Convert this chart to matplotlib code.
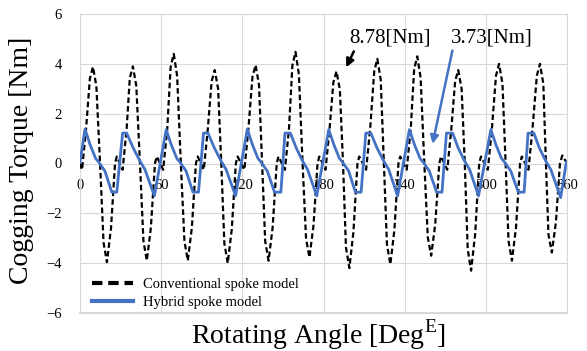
import matplotlib.pyplot as plt
from matplotlib.lines import Line2D

plt.rcParams['font.family'] = ['Liberation Serif', 'DejaVu Serif']
plt.rcParams['mathtext.fontset'] = 'custom'
plt.rcParams['mathtext.rm'] = 'Liberation Serif'

# Conventional spoke model
conv_angle = [0.0,
              1.5, 4.5, 7.3, 9.6, 12.1, 14.8, 17.4, 19.9, 22.9, 25.9, 27.2,
              31.5, 34.5, 36.8, 39.1, 41.6, 44.3, 46.9, 49.4, 52.4, 55.4, 56.7,
              61.5, 64.5, 67.0, 69.3, 71.8, 74.5, 77.2, 79.7, 82.7, 85.7, 87.0,
              91.5, 94.5, 97.3, 99.6, 102.1, 104.4, 106.7, 109.2, 112.2, 115.2, 116.5,
              121.5, 124.5, 127.5, 129.8, 132.3, 134.6, 136.9, 139.4, 142.4, 145.4, 146.7,
              151.5, 154.5, 157.0, 159.3, 161.8, 164.5, 167.1, 169.6, 172.6, 175.6, 176.9,
              181.5, 184.5, 187.3, 189.6, 192.1, 194.4, 196.6, 199.1, 202.1, 205.1, 206.4,
              211.5, 214.5, 217.5, 219.8, 222.3, 224.6, 226.9, 229.4, 232.4, 235.4, 236.7,
              241.5, 244.5, 247.0, 249.3, 251.8, 254.5, 257.1, 259.6, 262.6, 265.6, 266.9,
              271.5, 274.5, 277.3, 279.6, 282.1, 284.4, 286.6, 289.1, 292.1, 295.1, 296.4,
              301.5, 304.5, 307.5, 309.8, 312.3, 314.6, 316.8, 319.3, 322.3, 325.3, 326.6,
              331.5, 334.5, 337.7, 340.0, 342.5, 344.4, 346.3, 348.8, 351.8, 354.8, 356.5,
              359.5]
conv_torque = [0.0,
               -0.25, 1.4, 3.41, 3.88, 3.10, 0.05, -3.17, -3.96, -2.61, 0.0, 0.28,
               -0.25, 1.4, 3.43, 3.9, 3.12, 0.05, -3.12, -3.9, -2.57, 0.0, 0.28,
               -0.25, 1.4, 3.87, 4.4, 3.52, 0.05, -3.12, -3.9, -2.57, 0.0, 0.28,
               -0.25, 1.4, 3.3, 3.75, 3.0, 0.05, -3.2, -4.0, -2.64, 0.0, 0.28,
               -0.25, 1.4, 3.48, 3.95, 3.16, 0.05, -3.12, -3.9, -2.57, 0.0, 0.28,
               -0.25, 1.4, 3.94, 4.48, 3.58, 0.05, -3.02, -3.77, -2.49, 0.0, 0.28,
               -0.25, 1.4, 3.26, 3.7, 2.96, 0.05, -3.36, -4.2, -2.77, 0.0, 0.28,
               -0.25, 1.4, 3.7, 4.2, 3.36, 0.05, -3.24, -4.05, -2.67, 0.0, 0.28,
               -0.25, 1.4, 3.78, 4.3, 3.44, 0.05, -2.96, -3.7, -2.44, 0.0, 0.28,
               -0.25, 1.4, 3.3, 3.75, 3.0, 0.05, -3.44, -4.3, -2.84, 0.0, 0.28,
               -0.25, 1.4, 3.52, 4.0, 3.2, 0.05, -3.12, -3.9, -2.57, 0.0, 0.28,
               -0.25, 1.4, 3.52, 4.0, 3.2, 0.05, -2.86, -3.57, -2.36, 0.0, 0.32,
               0.05]

# Hybrid spoke model
hyb_angle = [0.0, 3.7, 7.5, 11.6, 13.5, 18.4, 23.5, 27.2, 31.5, 34.5, 39.3, 44.3, 48.0, 55.0,
             63.7, 67.5, 71.6, 73.5, 78.4, 83.5, 87.6, 91.3, 94.6, 99.3, 104.3, 108.0, 115.0,
             123.7, 127.5, 131.6, 133.5, 138.4, 143.8, 148.5, 151.5, 155.5, 159.8, 164.5, 168.2, 175.0,
             183.9, 187.7, 191.8, 193.7, 198.6, 203.6, 207.8, 211.3, 215.0, 219.5, 224.5, 228.2, 234.8,
             243.5, 247.3, 251.4, 253.3, 258.2, 263.6, 267.6, 270.9, 275.5, 279.5, 284.3, 288.0, 294.6,
             303.7, 307.5, 311.6, 313.5, 318.4, 324.0, 328.3, 331.2, 335.5, 339.5, 344.3, 348.0, 355.3,
             359.5]
hyb_torque = [0.05, 1.38, 0.75, 0.2, 0.08, -0.3, -1.15, -1.15, 1.22, 1.22, 0.63, 0.1, -0.24, -1.3,
              1.36, 0.75, 0.2, 0.08, -0.3, -1.15, -1.15, 1.22, 1.22, 0.63, 0.1, -0.24, -1.3,
              1.38, 0.75, 0.2, 0.08, -0.3, -1.15, -1.15, 1.22, 1.22, 0.63, 0.1, -0.24, -1.3,
              1.36, 0.75, 0.2, 0.08, -0.3, -1.15, -1.15, 1.22, 1.22, 0.63, 0.1, -0.24, -1.3,
              1.36, 0.75, 0.2, 0.08, -0.3, -1.15, -1.15, 1.22, 1.22, 0.63, 0.1, -0.24, -1.3,
              1.36, 0.75, 0.2, 0.08, -0.3, -1.15, -1.15, 1.22, 1.22, 0.63, 0.1, -0.24, -1.37,
              0.05]

x_ticks = [0, 60, 120, 180, 240, 300, 360]
y_ticks = [-6, -4, -2, 0, 2, 4, 6]

blue = '#4472C4'
grid_c = '#D9D9D9'

fig = plt.figure(figsize=(5.87, 3.51), dpi=100)
ax = fig.add_axes([80 / 587, 1 - 313 / 351, 487 / 587, 299 / 351])

ax.plot(conv_angle, conv_torque, color='black', lw=1.6, dashes=(2.5, 1.4), zorder=3)
ax.plot(hyb_angle, hyb_torque, color=blue, lw=2.0, zorder=4)

ax.set_xlim(0, 360)
ax.set_ylim(-6, 6)
ax.set_xticks(x_ticks)
ax.set_yticks(y_ticks)
ax.grid(True, color=grid_c, lw=0.8, zorder=0)
ax.set_axisbelow(True)

for s in ['left', 'right', 'top']:
    ax.spines[s].set_color(grid_c)
ax.spines['bottom'].set_position(('data', 0))
ax.spines['bottom'].set_color('none')
ax.axhline(-6, color=grid_c, lw=1.5, clip_on=False, zorder=0)
ax.tick_params(axis='both', length=0, labelsize=10.5)
ax.tick_params(axis='x', pad=11)
ax.tick_params(axis='y', pad=13)

fig.text(22 / 587, 1 - 160 / 351, 'Cogging Torque [Nm]', rotation=90,
         ha='center', va='center', fontsize=20)
fig.text(318 / 587, 1 - 335 / 351, 'Rotating Angle [Deg$^{\\mathrm{E}}$]',
         ha='center', va='center', fontsize=20)

ax.annotate('', xy=(195.9, 3.76), xytext=(203.3, 4.6),
            arrowprops=dict(arrowstyle='-|>', color='black', lw=1.8, mutation_scale=12))
ax.annotate('', xy=(260.2, 0.68), xytext=(275.7, 4.64),
            arrowprops=dict(arrowstyle='-|>', color=blue, lw=1.8, mutation_scale=12))
ax.text(229.2, 5.05, '8.78[Nm]', ha='center', va='center', fontsize=15)
ax.text(304.2, 5.05, '3.73[Nm]', ha='center', va='center', fontsize=15)

handles = [Line2D([], [], color='black', lw=3, dashes=(2.5, 1.4)),
           Line2D([], [], color=blue, lw=3)]
ax.legend(handles, ['Conventional spoke model', 'Hybrid spoke model'],
          loc='lower left', bbox_to_anchor=(0.025, 0.012), frameon=False,
          borderpad=0, borderaxespad=0, handlelength=2.8, handletextpad=0.7,
          labelspacing=0.35, fontsize=10.5)

fig.savefig('out.png', dpi=100)
